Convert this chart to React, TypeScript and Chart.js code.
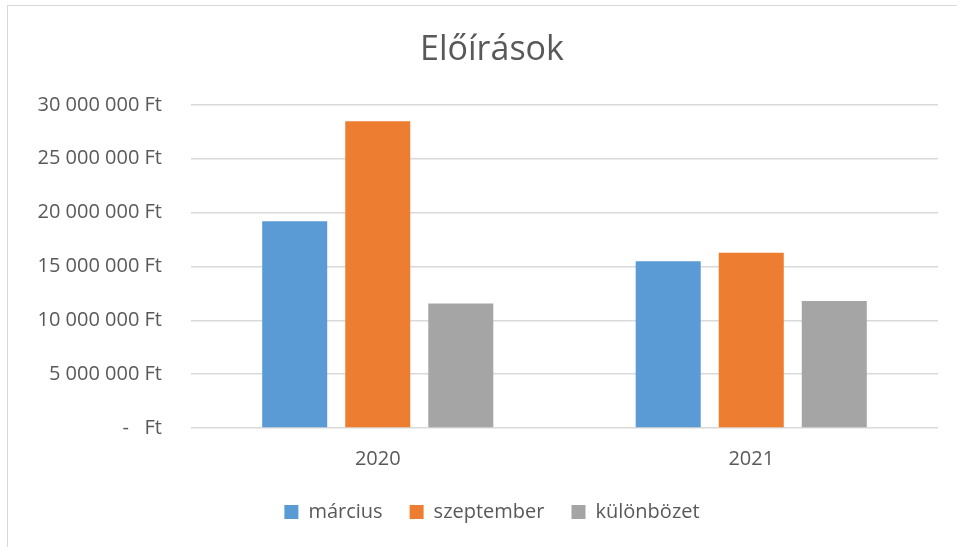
import React, { useEffect, useRef } from "react";
import { Chart, registerables } from "chart.js";

Chart.register(...registerables);

const categories = ["2020", "2021"];
const seriesNames = ["március", "szeptember", "különbözet"];
const marciusValues = [19190000, 15470000];
const szeptemberValues = [28480000, 16270000];
const kulonbozetValues = [11560000, 11780000];
const seriesColors = ["#5B9BD5", "#ED7D31", "#A5A5A5"];
const yMin = 0;
const yMax = 30000000;
const yStep = 5000000;

const FONT = "'Open Sans', 'Noto Sans', sans-serif";
const TEXT = "#595959";

function formatFt(v: number): string {
  if (v === 0) return "-   Ft";
  const s = Math.round(v).toString().replace(/\B(?=(\d{3})+(?!\d))/g, " ");
  return s + " Ft";
}

export default function App() {
  const ref = useRef<HTMLCanvasElement | null>(null);

  useEffect(() => {
    if (!ref.current) return;
    const chart = new Chart(ref.current, {
      type: "bar",
      data: {
        labels: categories,
        datasets: [
          { label: seriesNames[0], data: marciusValues, backgroundColor: seriesColors[0] },
          { label: seriesNames[1], data: szeptemberValues, backgroundColor: seriesColors[1] },
          { label: seriesNames[2], data: kulonbozetValues, backgroundColor: seriesColors[2] },
        ],
      },
      options: {
        responsive: false,
        animation: false,
        layout: { padding: { left: 46, right: 19, top: 5, bottom: 15 } },
        datasets: {
          bar: { categoryPercentage: 0.667, barPercentage: 0.783 },
        },
        plugins: {
          title: {
            display: true,
            text: "Előírások",
            color: TEXT,
            font: { family: FONT, size: 34, weight: "normal" },
            padding: { top: 25, bottom: 34 },
          },
          legend: {
            display: true,
            position: "bottom",
            labels: {
              color: TEXT,
              font: { family: FONT, size: 20 },
              boxWidth: 14,
              boxHeight: 14,
              padding: 27,
            },
          },
          tooltip: { enabled: false },
        },
        scales: {
          x: {
            grid: { display: false, drawTicks: false },
            border: { display: false },
            ticks: {
              color: TEXT,
              font: { family: FONT, size: 20 },
              padding: 19,
            },
            afterFit: (scale: any) => {
              scale.height = 47;
            },
          },
          y: {
            min: yMin,
            max: yMax,
            grid: { color: "#D9D9D9", lineWidth: 1.5, drawTicks: false },
            border: { display: false },
            ticks: {
              stepSize: yStep,
              color: TEXT,
              font: { family: FONT, size: 20 },
              padding: 29,
              callback: (v: any) => formatFt(Number(v)),
            },
            afterFit: (scale: any) => {
              scale.width = 145;
              scale._computeLabelArea = () => undefined;
            },
          },
        },
      },
    });
    return () => chart.destroy();
  }, []);

  return (
    <div style={{ position: "fixed", left: 0, top: 0, width: 957, height: 547, background: "#fff", overflow: "hidden" }}>
      <div
        style={{
          position: "absolute",
          left: 7,
          top: 5,
          width: 960,
          height: 560,
          borderTop: "1.5px solid #D9D9D9",
          borderLeft: "1.5px solid #D9D9D9",
        }}
      />
      <canvas ref={ref} width={957} height={547} style={{ position: "absolute", left: 0, top: 0 }} />
    </div>
  );
}
